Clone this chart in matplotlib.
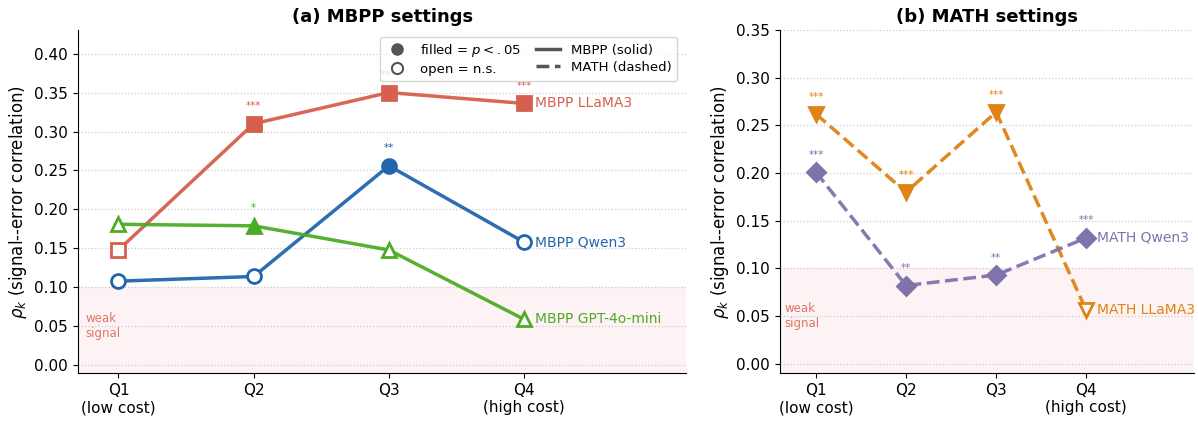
import numpy as np
import matplotlib
matplotlib.use("Agg")
import matplotlib.pyplot as plt
from matplotlib.lines import Line2D

quartiles = ["Q1\n(low cost)", "Q2", "Q3", "Q4\n(high cost)"]

# MBPP settings
mbpp_llama = [0.148, 0.310, 0.350, 0.336]
mbpp_llama_sig = ["", "***", "***", "***"]
mbpp_qwen = [0.108, 0.114, 0.256, 0.158]
mbpp_qwen_sig = ["", "", "**", ""]
mbpp_gpt = [0.181, 0.179, 0.148, 0.059]
mbpp_gpt_sig = ["", "*", "", ""]

# MATH settings
math_llama = [0.262, 0.180, 0.264, 0.056]
math_llama_sig = ["***", "***", "***", ""]
math_qwen = [0.201, 0.082, 0.093, 0.132]
math_qwen_sig = ["***", "**", "**", "***"]

c_red = "#d6604d"
c_blue = "#2166ac"
c_green = "#4dac26"
c_orange = "#e08214"
c_purple = "#8073ac"


def draw_series(ax, vals, sig, color, marker, ls, label):
    x = np.arange(len(vals))
    ax.plot(x, vals, color=color, lw=2.5, ls=ls, zorder=2, alpha=0.95)
    for xi, v, s in zip(x, vals, sig):
        filled = s != ""
        ax.plot(xi, v, marker=marker, ms=10 if marker != "D" else 9,
                mfc=color if filled else "white", mec=color, mew=2, zorder=3)
        if s:
            ax.annotate(s, (xi, v), xytext=(0, 9), textcoords="offset points",
                        ha="center", va="bottom", fontsize=7.5, color=color)
    ax.annotate(label, (x[-1], vals[-1]), xytext=(8, 0), textcoords="offset points",
                ha="left", va="center", fontsize=10, color=color)


def style_axes(ax, ylim):
    ax.set_ylim(*ylim)
    ax.axhspan(ylim[0], 0.10, color="#fef3f4", zorder=0)
    ax.yaxis.grid(True, ls=":", color="#cccccc", lw=0.9)
    ax.set_axisbelow(True)
    ax.spines["top"].set_visible(False)
    ax.spines["right"].set_visible(False)
    ax.set_xticks(range(4))
    ax.set_xticklabels(quartiles, fontsize=11)
    ax.tick_params(axis="y", labelsize=11)
    ax.set_ylabel(r"$\rho_k$ (signal--error correlation)", fontsize=12)
    ax.text(0.012, 0.05, "weak\nsignal", transform=ax.get_yaxis_transform(),
            ha="left", va="center", fontsize=8.5, color=c_red, alpha=0.85)


fig = plt.figure(figsize=(11.98, 4.25), dpi=100)
ax1 = fig.add_axes([0.065, 0.122, 0.508, 0.807])
ax2 = fig.add_axes([0.651, 0.122, 0.346, 0.807])

style_axes(ax1, (-0.01, 0.43))
ax1.set_xlim(-0.3, 4.2)
ax1.set_yticks(np.arange(0, 0.41, 0.05))
draw_series(ax1, mbpp_llama, mbpp_llama_sig, c_red, "s", "-", "MBPP LLaMA3")
draw_series(ax1, mbpp_qwen, mbpp_qwen_sig, c_blue, "o", "-", "MBPP Qwen3")
draw_series(ax1, mbpp_gpt, mbpp_gpt_sig, c_green, "^", "-", "MBPP GPT-4o-mini")
ax1.set_title("(a) MBPP settings", fontsize=13, fontweight="bold")

handles = [
    Line2D([], [], marker="o", ls="", color="#555555", ms=8),
    Line2D([], [], marker="o", ls="", mfc="white", mec="#555555", mew=1.5, ms=8),
    Line2D([], [], color="#555555", lw=2.5, ls="-"),
    Line2D([], [], color="#555555", lw=2.5, ls="--"),
]
labels = [r"filled = $p<.05$", "open = n.s.", "MBPP (solid)", "MATH (dashed)"]
leg = ax1.legend(handles, labels, ncol=2, loc="upper right", fontsize=9.5,
                 frameon=True, handlelength=1.8, columnspacing=1.2,
                 borderpad=0.4, labelspacing=0.3, bbox_to_anchor=(0.995, 1.0))
leg.set_zorder(5)

style_axes(ax2, (-0.01, 0.35))
ax2.set_xlim(-0.4, 4.2)
ax2.set_yticks(np.arange(0, 0.351, 0.05))
draw_series(ax2, math_llama, math_llama_sig, c_orange, "v", "--", "MATH LLaMA3")
draw_series(ax2, math_qwen, math_qwen_sig, c_purple, "D", "--", "MATH Qwen3")
ax2.set_title("(b) MATH settings", fontsize=13, fontweight="bold")

fig.savefig("out.png", dpi=100)
